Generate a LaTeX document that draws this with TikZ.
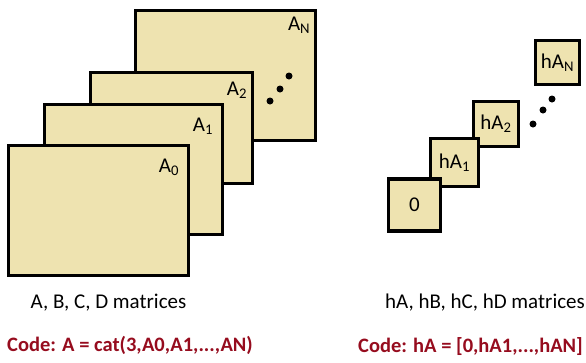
\documentclass[tikz,border=0pt]{standalone}
\usepackage{fontspec}
\setmainfont{Carlito}
\usetikzlibrary{positioning}
\definecolor{beige}{RGB}{238,227,176}
\definecolor{granate}{RGB}{150,12,30}
\tikzstyle{matriz} = [draw=black, fill=beige, line width=3.3pt, rectangle, inner sep=0pt]
\tikzstyle{etiqueta} = [inner sep=0pt, font=\fontsize{21}{25}\selectfont]
\tikzstyle{codigo} = [inner sep=0pt, text=granate, font=\bfseries\fontsize{20.5}{24}\selectfont]

\begin{document}
\begin{tikzpicture}[x=1pt,y=-1pt]
\useasboundingbox (0,0) rectangle (586,362);
% pila de matrices A
\node[matriz, minimum width=180pt, minimum height=130pt] (aN) at (225.75,75.75) {};
\node[matriz, minimum width=162pt, minimum height=111pt] (a2) at (171.5,128) {};
\node[matriz, minimum width=178pt, minimum height=130pt] (a1) at (133.5,169.5) {};
\node[matriz, minimum width=180pt, minimum height=130pt] (a0) at (98.5,210.5) {};
\node[etiqueta, below left=8pt and 7pt of aN.north east] {A\textsubscript{N}};
\node[etiqueta, below left=11pt and 7pt of a2.north east] {A\textsubscript{2}};
\node[etiqueta, below left=15pt and 11pt of a1.north east] {A\textsubscript{1}};
\node[etiqueta, below left=15pt and 11pt of a0.north east] {A\textsubscript{0}};
% escalera hA
\node[matriz, minimum size=44pt, font=\fontsize{21}{25}\selectfont] (hAN) at (557.5,62.5) {hA\textsubscript{N}};
\node[matriz, minimum size=45pt, font=\fontsize{21}{25}\selectfont] (hA2) at (496,124) {hA\textsubscript{2}};
\node[matriz, minimum size=48pt, font=\fontsize{21}{25}\selectfont] (hA1) at (454.5,162.5) {hA\textsubscript{1}};
\node[matriz, minimum size=52pt, font=\fontsize{21}{25}\selectfont] (h0) at (414.5,205) {0};
% puntos suspensivos
\foreach \x/\y in {270/101, 280/89, 289/76, 533/124, 543/110, 552/99}
  \fill (\x,\y) circle (3.5pt);
% textos
\node[etiqueta] (txtA) at (108.5,303) {A, B, C, D matrices};
\node[etiqueta] (txthA) at (485,303) {hA, hB, hC, hD matrices};
\node[codigo] (codA) at (130,345) {Code: A = cat(3,A0,A1,...,AN)};
\node[codigo] (codhA) at (470.5,347) {Code: hA = [0,hA1,...,hAN]};
\end{tikzpicture}
\end{document}
